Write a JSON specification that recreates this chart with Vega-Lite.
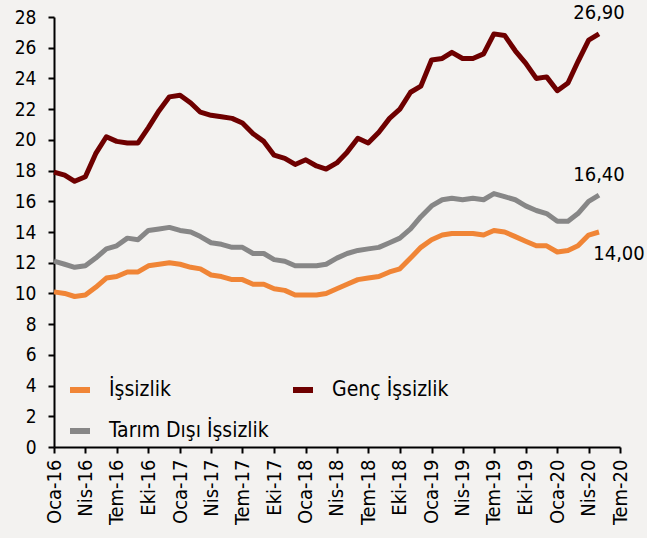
{
  "$schema": "https://vega.github.io/schema/vega-lite/v6.json",
  "autosize": {"type": "none"},
  "width": 566,
  "height": 430,
  "padding": {"left": 54, "top": 17, "right": 27, "bottom": 91},
  "background": "#f3f2f0",
  "config": {
    "view": {"stroke": null},
    "font": "DejaVu Sans Condensed",
    "locale": {"number": {"decimal": ",", "thousands": ".", "grouping": [3], "currency": ["", " ₺"]}},
    "axis": {"domainColor": "#000000", "domainWidth": 2, "tickColor": "#000000", "tickWidth": 2, "tickSize": 6, "labelColor": "#000000", "grid": false, "title": null}
  },
  "data": {
    "values": [
      {"d": "2016-01-01", "İşsizlik": 10.1, "Genç İşsizlik": 17.9, "Tarım Dışı İşsizlik": 12.1},
      {"d": "2016-02-01", "İşsizlik": 10.0, "Genç İşsizlik": 17.7, "Tarım Dışı İşsizlik": 11.9},
      {"d": "2016-03-01", "İşsizlik": 9.8, "Genç İşsizlik": 17.3, "Tarım Dışı İşsizlik": 11.7},
      {"d": "2016-04-01", "İşsizlik": 9.9, "Genç İşsizlik": 17.6, "Tarım Dışı İşsizlik": 11.8},
      {"d": "2016-05-01", "İşsizlik": 10.4, "Genç İşsizlik": 19.1, "Tarım Dışı İşsizlik": 12.3},
      {"d": "2016-06-01", "İşsizlik": 11.0, "Genç İşsizlik": 20.2, "Tarım Dışı İşsizlik": 12.9},
      {"d": "2016-07-01", "İşsizlik": 11.1, "Genç İşsizlik": 19.9, "Tarım Dışı İşsizlik": 13.1},
      {"d": "2016-08-01", "İşsizlik": 11.4, "Genç İşsizlik": 19.8, "Tarım Dışı İşsizlik": 13.6},
      {"d": "2016-09-01", "İşsizlik": 11.4, "Genç İşsizlik": 19.8, "Tarım Dışı İşsizlik": 13.5},
      {"d": "2016-10-01", "İşsizlik": 11.8, "Genç İşsizlik": 20.8, "Tarım Dışı İşsizlik": 14.1},
      {"d": "2016-11-01", "İşsizlik": 11.9, "Genç İşsizlik": 21.9, "Tarım Dışı İşsizlik": 14.2},
      {"d": "2016-12-01", "İşsizlik": 12.0, "Genç İşsizlik": 22.8, "Tarım Dışı İşsizlik": 14.3},
      {"d": "2017-01-01", "İşsizlik": 11.9, "Genç İşsizlik": 22.9, "Tarım Dışı İşsizlik": 14.1},
      {"d": "2017-02-01", "İşsizlik": 11.7, "Genç İşsizlik": 22.4, "Tarım Dışı İşsizlik": 14.0},
      {"d": "2017-03-01", "İşsizlik": 11.6, "Genç İşsizlik": 21.8, "Tarım Dışı İşsizlik": 13.7},
      {"d": "2017-04-01", "İşsizlik": 11.2, "Genç İşsizlik": 21.6, "Tarım Dışı İşsizlik": 13.3},
      {"d": "2017-05-01", "İşsizlik": 11.1, "Genç İşsizlik": 21.5, "Tarım Dışı İşsizlik": 13.2},
      {"d": "2017-06-01", "İşsizlik": 10.9, "Genç İşsizlik": 21.4, "Tarım Dışı İşsizlik": 13.0},
      {"d": "2017-07-01", "İşsizlik": 10.9, "Genç İşsizlik": 21.1, "Tarım Dışı İşsizlik": 13.0},
      {"d": "2017-08-01", "İşsizlik": 10.6, "Genç İşsizlik": 20.4, "Tarım Dışı İşsizlik": 12.6},
      {"d": "2017-09-01", "İşsizlik": 10.6, "Genç İşsizlik": 19.9, "Tarım Dışı İşsizlik": 12.6},
      {"d": "2017-10-01", "İşsizlik": 10.3, "Genç İşsizlik": 19.0, "Tarım Dışı İşsizlik": 12.2},
      {"d": "2017-11-01", "İşsizlik": 10.2, "Genç İşsizlik": 18.8, "Tarım Dışı İşsizlik": 12.1},
      {"d": "2017-12-01", "İşsizlik": 9.9, "Genç İşsizlik": 18.4, "Tarım Dışı İşsizlik": 11.8},
      {"d": "2018-01-01", "İşsizlik": 9.9, "Genç İşsizlik": 18.7, "Tarım Dışı İşsizlik": 11.8},
      {"d": "2018-02-01", "İşsizlik": 9.9, "Genç İşsizlik": 18.3, "Tarım Dışı İşsizlik": 11.8},
      {"d": "2018-03-01", "İşsizlik": 10.0, "Genç İşsizlik": 18.1, "Tarım Dışı İşsizlik": 11.9},
      {"d": "2018-04-01", "İşsizlik": 10.3, "Genç İşsizlik": 18.5, "Tarım Dışı İşsizlik": 12.3},
      {"d": "2018-05-01", "İşsizlik": 10.6, "Genç İşsizlik": 19.2, "Tarım Dışı İşsizlik": 12.6},
      {"d": "2018-06-01", "İşsizlik": 10.9, "Genç İşsizlik": 20.1, "Tarım Dışı İşsizlik": 12.8},
      {"d": "2018-07-01", "İşsizlik": 11.0, "Genç İşsizlik": 19.8, "Tarım Dışı İşsizlik": 12.9},
      {"d": "2018-08-01", "İşsizlik": 11.1, "Genç İşsizlik": 20.5, "Tarım Dışı İşsizlik": 13.0},
      {"d": "2018-09-01", "İşsizlik": 11.4, "Genç İşsizlik": 21.4, "Tarım Dışı İşsizlik": 13.3},
      {"d": "2018-10-01", "İşsizlik": 11.6, "Genç İşsizlik": 22.0, "Tarım Dışı İşsizlik": 13.6},
      {"d": "2018-11-01", "İşsizlik": 12.3, "Genç İşsizlik": 23.1, "Tarım Dışı İşsizlik": 14.2},
      {"d": "2018-12-01", "İşsizlik": 13.0, "Genç İşsizlik": 23.5, "Tarım Dışı İşsizlik": 15.0},
      {"d": "2019-01-01", "İşsizlik": 13.5, "Genç İşsizlik": 25.2, "Tarım Dışı İşsizlik": 15.7},
      {"d": "2019-02-01", "İşsizlik": 13.8, "Genç İşsizlik": 25.3, "Tarım Dışı İşsizlik": 16.1},
      {"d": "2019-03-01", "İşsizlik": 13.9, "Genç İşsizlik": 25.7, "Tarım Dışı İşsizlik": 16.2},
      {"d": "2019-04-01", "İşsizlik": 13.9, "Genç İşsizlik": 25.3, "Tarım Dışı İşsizlik": 16.1},
      {"d": "2019-05-01", "İşsizlik": 13.9, "Genç İşsizlik": 25.3, "Tarım Dışı İşsizlik": 16.2},
      {"d": "2019-06-01", "İşsizlik": 13.8, "Genç İşsizlik": 25.6, "Tarım Dışı İşsizlik": 16.1},
      {"d": "2019-07-01", "İşsizlik": 14.1, "Genç İşsizlik": 26.9, "Tarım Dışı İşsizlik": 16.5},
      {"d": "2019-08-01", "İşsizlik": 14.0, "Genç İşsizlik": 26.8, "Tarım Dışı İşsizlik": 16.3},
      {"d": "2019-09-01", "İşsizlik": 13.7, "Genç İşsizlik": 25.8, "Tarım Dışı İşsizlik": 16.1},
      {"d": "2019-10-01", "İşsizlik": 13.4, "Genç İşsizlik": 25.0, "Tarım Dışı İşsizlik": 15.7},
      {"d": "2019-11-01", "İşsizlik": 13.1, "Genç İşsizlik": 24.0, "Tarım Dışı İşsizlik": 15.4},
      {"d": "2019-12-01", "İşsizlik": 13.1, "Genç İşsizlik": 24.1, "Tarım Dışı İşsizlik": 15.2},
      {"d": "2020-01-01", "İşsizlik": 12.7, "Genç İşsizlik": 23.2, "Tarım Dışı İşsizlik": 14.7},
      {"d": "2020-02-01", "İşsizlik": 12.8, "Genç İşsizlik": 23.7, "Tarım Dışı İşsizlik": 14.7},
      {"d": "2020-03-01", "İşsizlik": 13.1, "Genç İşsizlik": 25.1, "Tarım Dışı İşsizlik": 15.2},
      {"d": "2020-04-01", "İşsizlik": 13.8, "Genç İşsizlik": 26.5, "Tarım Dışı İşsizlik": 16.0},
      {"d": "2020-05-01", "İşsizlik": 14.0, "Genç İşsizlik": 26.9, "Tarım Dışı İşsizlik": 16.4}
    ],
    "format": {"parse": {"d": "date"}}
  },
  "transform": [
    {"fold": ["İşsizlik", "Genç İşsizlik", "Tarım Dışı İşsizlik"], "as": ["series", "value"]}
  ],
  "encoding": {
    "x": {
      "field": "d", "type": "temporal",
      "scale": {"type": "utc", "domain": [{"year": 2016, "month": 1, "date": 1, "utc": true}, {"year": 2020, "month": 7, "date": 1, "utc": true}]},
      "axis": {
        "values": [
          {"year": 2016, "month": 1, "date": 1, "utc": true}, {"year": 2016, "month": 4, "date": 1, "utc": true}, {"year": 2016, "month": 7, "date": 1, "utc": true}, {"year": 2016, "month": 10, "date": 1, "utc": true},
          {"year": 2017, "month": 1, "date": 1, "utc": true}, {"year": 2017, "month": 4, "date": 1, "utc": true}, {"year": 2017, "month": 7, "date": 1, "utc": true}, {"year": 2017, "month": 10, "date": 1, "utc": true},
          {"year": 2018, "month": 1, "date": 1, "utc": true}, {"year": 2018, "month": 4, "date": 1, "utc": true}, {"year": 2018, "month": 7, "date": 1, "utc": true}, {"year": 2018, "month": 10, "date": 1, "utc": true},
          {"year": 2019, "month": 1, "date": 1, "utc": true}, {"year": 2019, "month": 4, "date": 1, "utc": true}, {"year": 2019, "month": 7, "date": 1, "utc": true}, {"year": 2019, "month": 10, "date": 1, "utc": true},
          {"year": 2020, "month": 1, "date": 1, "utc": true}, {"year": 2020, "month": 4, "date": 1, "utc": true}, {"year": 2020, "month": 7, "date": 1, "utc": true}
        ],
        "labelExpr": "['Oca','Şub','Mar','Nis','May','Haz','Tem','Ağu','Eyl','Eki','Kas','Ara'][utcmonth(datum.value)] + '-' + utcFormat(datum.value, '%y')",
        "labelAngle": -90,
        "labelFontSize": 20,
        "labelPadding": 6,
        "labelOverlap": false,
        "labelFlush": false
      }
    },
    "y": {
      "field": "value", "type": "quantitative",
      "scale": {"domain": [0, 28], "nice": false, "zero": true},
      "axis": {"values": [0, 2, 4, 6, 8, 10, 12, 14, 16, 18, 20, 22, 24, 26, 28], "labelFontSize": 19, "labelPadding": 12, "labelOverlap": false, "labelFlush": false}
    }
  },
  "layer": [
    {
      "mark": {"type": "line", "strokeWidth": 5, "strokeJoin": "round"},
      "encoding": {
        "color": {
          "field": "series", "type": "nominal",
          "scale": {"domain": ["İşsizlik", "Tarım Dışı İşsizlik", "Genç İşsizlik"], "range": ["#f08536", "#878787", "#6e0000"]},
          "legend": {
            "title": null, "orient": "none", "legendX": 13, "legendY": 360, "columns": 2, "columnPadding": 12, "rowPadding": 16,
            "symbolType": "stroke", "symbolStrokeWidth": 6, "symbolSize": 400, "labelFontSize": 21, "labelOffset": 16, "labelColor": "#000000", "labelLimit": 400, "padding": 0
          }
        }
      }
    },
    {
      "transform": [{"filter": "datum.series === 'Genç İşsizlik' && time(datum.d) === utc(2020, 4, 1)"}],
      "mark": {"type": "text", "fontSize": 20, "dy": -21, "color": "#000000"},
      "encoding": {"text": {"field": "value", "type": "quantitative", "format": ".2f"}}
    },
    {
      "transform": [{"filter": "datum.series === 'Tarım Dışı İşsizlik' && time(datum.d) === utc(2020, 4, 1)"}],
      "mark": {"type": "text", "fontSize": 20, "dy": -20, "color": "#000000"},
      "encoding": {"text": {"field": "value", "type": "quantitative", "format": ".2f"}}
    },
    {
      "transform": [{"filter": "datum.series === 'İşsizlik' && time(datum.d) === utc(2020, 4, 1)"}],
      "mark": {"type": "text", "fontSize": 20, "dx": 20, "dy": 22, "color": "#000000"},
      "encoding": {"text": {"field": "value", "type": "quantitative", "format": ".2f"}}
    }
  ]
}
